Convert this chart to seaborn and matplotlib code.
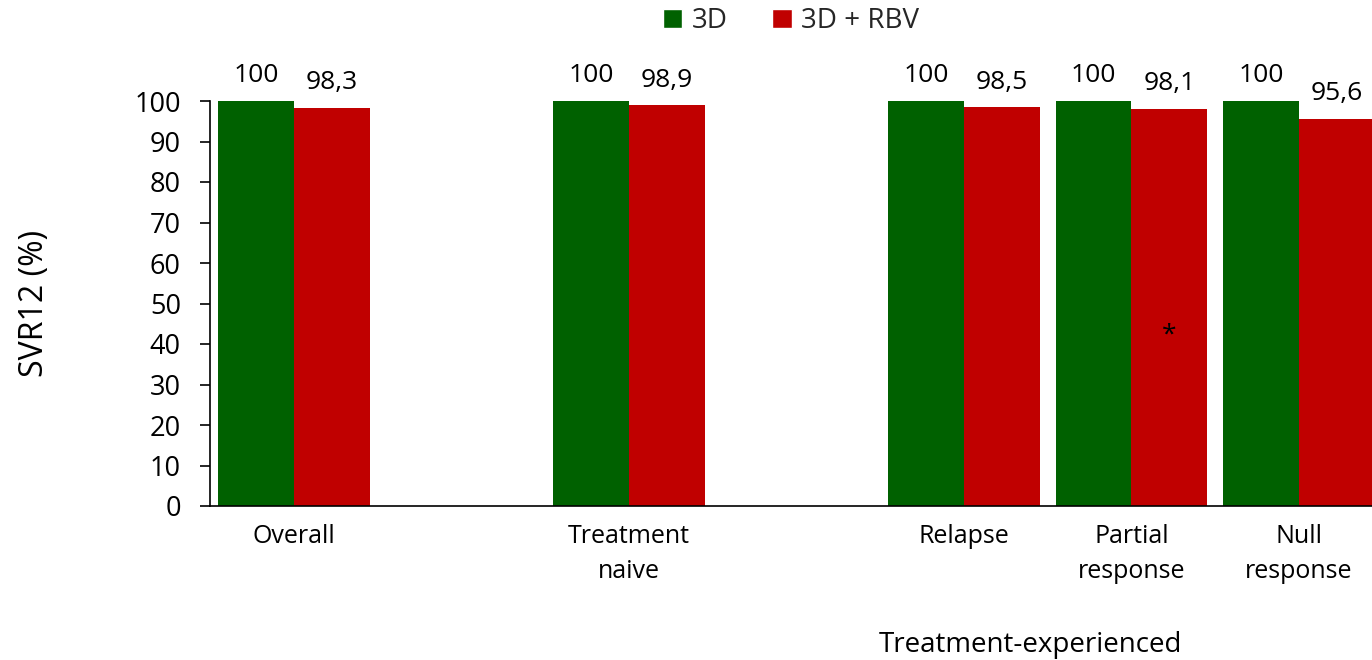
import matplotlib
matplotlib.use("Agg")
import matplotlib.pyplot as plt
import seaborn as sns
import pandas as pd
from matplotlib.patches import Patch

# Subgroups (numeric positions leave gaps between the three blocks)
groups = ["Overall", "Treatment\nnaive", "Relapse", "Partial\nresponse", "Null\nresponse"]
positions = [0, 2, 4, 5, 6]
series = ["3D", "3D + RBV"]
svr_3d = [100, 100, 100, 100, 100]
svr_3d_rbv = [98.3, 98.9, 98.5, 98.1, 95.6]
colors = {"3D": "#006100", "3D + RBV": "#C00000"}

df = pd.DataFrame({
    "pos": positions * 2,
    "regimen": [series[0]] * len(groups) + [series[1]] * len(groups),
    "svr": svr_3d + svr_3d_rbv,
})

sns.set_theme(style="white")
plt.rcParams["font.family"] = ["Open Sans", "DejaVu Sans"]

fig = plt.figure(figsize=(13.72, 6.6), dpi=100)
ax = fig.add_axes([210 / 1372, 1 - 506 / 660, 1 - 210 / 1372, (506 - 101) / 660])

sns.barplot(data=df, x="pos", y="svr", hue="regimen", hue_order=series,
            palette=colors, native_scale=True, width=0.907, gap=0,
            linewidth=0, saturation=1, ax=ax, legend=False)

ax.set_xlim(-0.502, 6.436)
ax.set_ylim(0, 100)
ax.set_yticks(range(0, 101, 10))
ax.set_xticks(positions)
ax.set_xticklabels(groups, fontsize=18, linespacing=1.5)
ax.tick_params(axis="x", length=0, pad=13, colors="black")
ax.tick_params(axis="y", length=7, width=1.2, direction="out", pad=14,
               labelsize=19.5, colors="black", left=True)
for s in ["top", "right"]:
    ax.spines[s].set_visible(False)
for s in ["left", "bottom"]:
    ax.spines[s].set_color("black")
    ax.spines[s].set_linewidth(1.2)
ax.set_xlabel("")
ax.set_ylabel("SVR12 (%)", fontsize=23, labelpad=60, color="black")

# Value labels above each bar (comma decimal separator)
for container in ax.containers:
    for bar in container:
        h = bar.get_height()
        txt = f"{h:g}".replace(".", ",")
        ax.annotate(txt, (bar.get_x() + bar.get_width() / 2, h),
                    xytext=(0, 9), textcoords="offset points",
                    ha="center", va="bottom", fontsize=19, color="black",
                    annotation_clip=False)

# Footnote marker on the partial-response RBV bar
rbv_bar = ax.containers[1][3]
ax.text(rbv_bar.get_x() + rbv_bar.get_width() / 2, 42.3, "*",
        ha="center", va="center", fontsize=19, color="black")

fig.text(1030 / 1372, 1 - 645 / 660, "Treatment-experienced",
         ha="center", va="center", fontsize=20, color="black")

handles = [Patch(facecolor=colors[s], label=s) for s in series]
ax.legend(handles=handles, loc="center", bbox_to_anchor=(0.5, 1 + (101 - 21) / 405),
          ncol=2, frameon=False, fontsize=20, handlelength=0.7, handleheight=0.7,
          handletextpad=0.35, columnspacing=1.6)

fig.savefig("out.png", dpi=100)
